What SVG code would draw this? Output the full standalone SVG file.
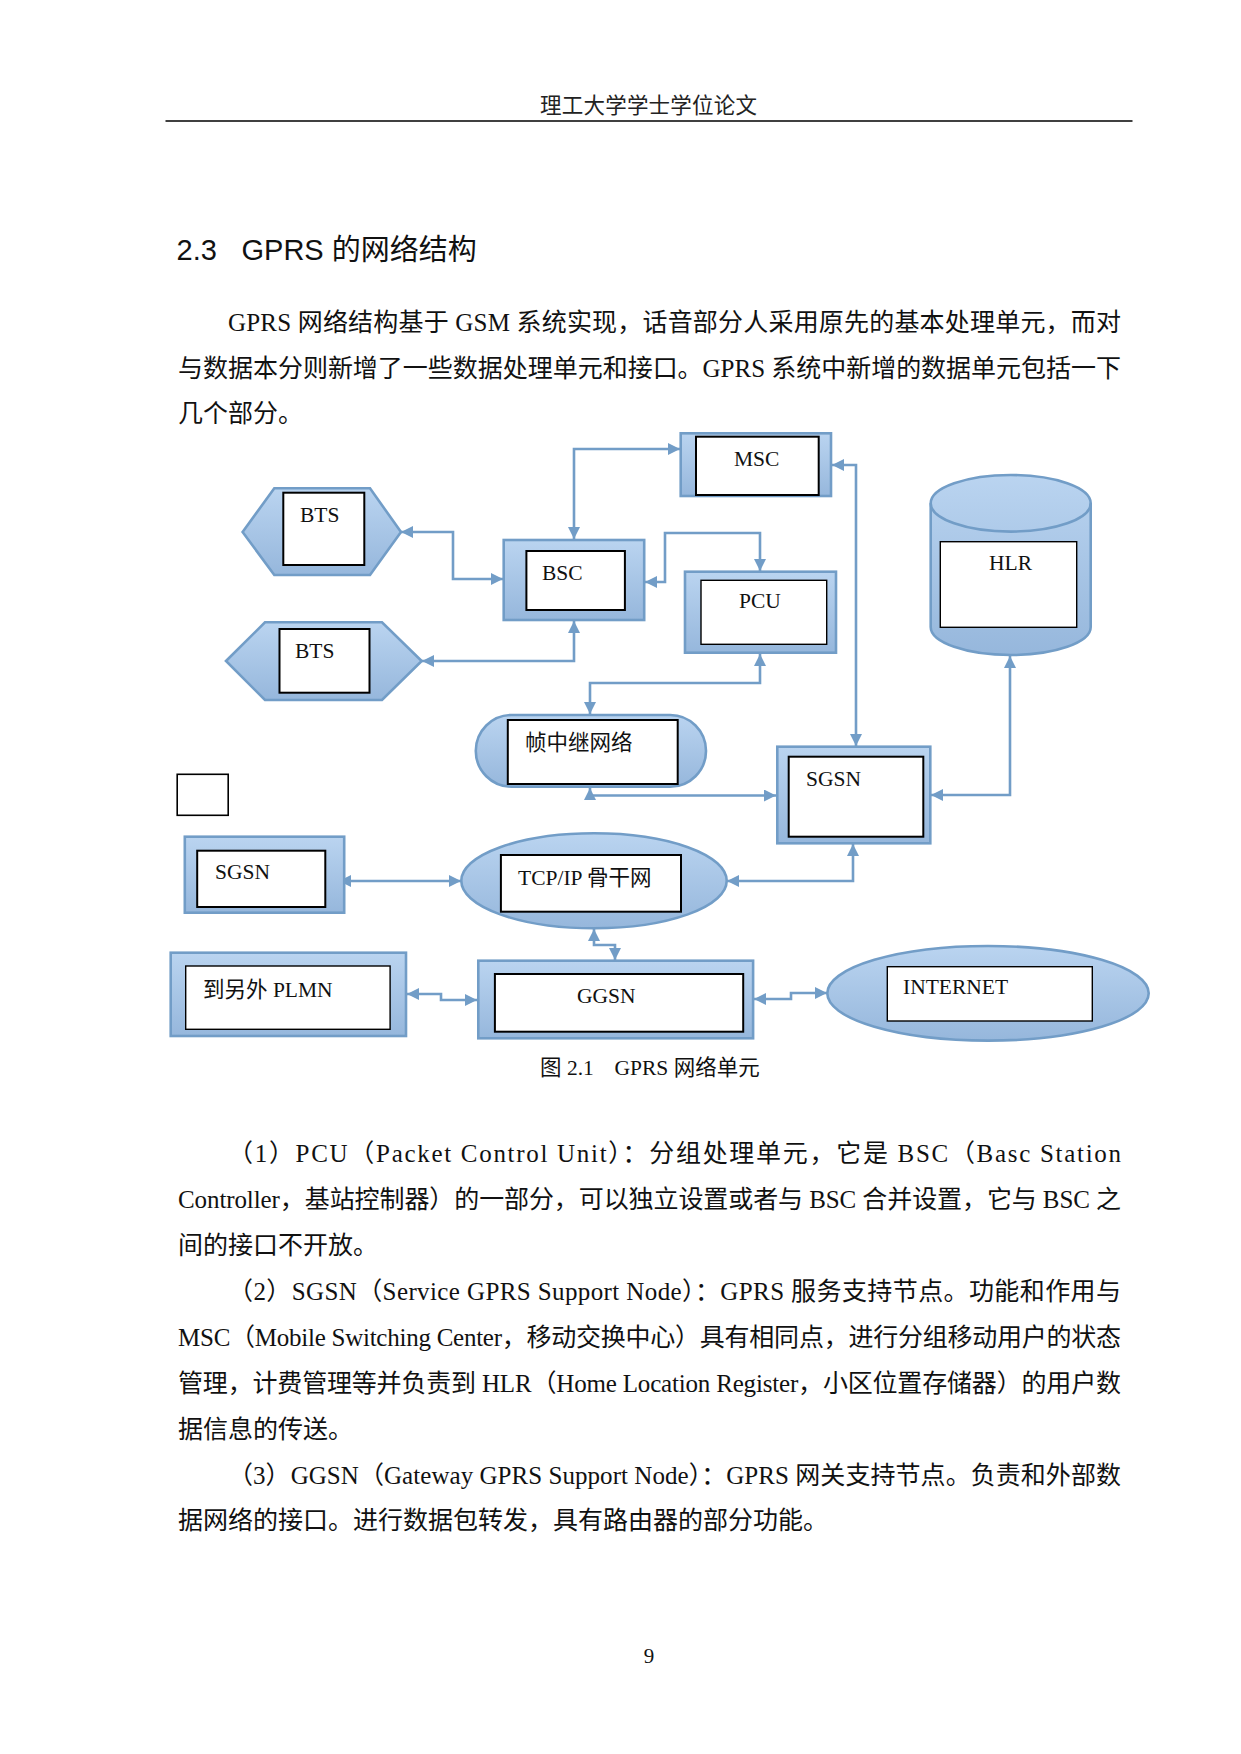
<svg xmlns="http://www.w3.org/2000/svg" width="1241" height="1754" viewBox="0 0 1241 1754">
<style>
.shape{fill:url(#g);stroke:#729dc7;stroke-width:2.6}
.inner{fill:#fff;stroke:#000;stroke-width:2}
.thin{fill:#fff;stroke:#000;stroke-width:1.4}
.lbl{font-family:"Liberation Serif","Noto Sans CJK SC",serif;font-size:21.5px;fill:#111}
.body{font-family:"Liberation Serif","Noto Sans CJK SC",serif;font-size:25px;fill:#111}
.conn{fill:none;stroke:#729dc7;stroke-width:2.6;marker-start:url(#ah);marker-end:url(#ah)}
</style>
<defs>
<linearGradient id="g" x1="0" y1="0" x2="0" y2="1">
<stop offset="0" stop-color="#bad4f0"/>
<stop offset="1" stop-color="#96b7dc"/>
</linearGradient>
<marker id="ah" viewBox="0 0 12 12" refX="12" refY="6" markerWidth="12" markerHeight="12" markerUnits="userSpaceOnUse" orient="auto-start-reverse">
<path d="M0,0 L12,6 L0,12 z" fill="#729dc7"/>
</marker>
</defs>
<rect width="1241" height="1754" fill="#fff"/>

<g id="page-header">
<text x="540" y="113" font-family="Noto Sans CJK SC, sans-serif" font-size="21.5" fill="#222" textLength="217">理工大学学士学位论文</text>
<line x1="165.5" y1="121" x2="1132.5" y2="121" stroke="#000" stroke-width="1.5"/>
</g>

<g id="heading" font-family="Liberation Sans, Noto Sans CJK SC, sans-serif" font-size="29" fill="#111">
<text x="176.5" y="260">2.3</text>
<text x="241.5" y="260">GPRS 的网络结构</text>
</g>

<g id="intro" class="body">
<text class="body" x="228" y="331" textLength="893">GPRS 网络结构基于 GSM 系统实现，话音部分人采用原先的基本处理单元，而对</text>
<text class="body" x="178" y="377" textLength="943">与数据本分则新增了一些数据处理单元和接口。GPRS 系统中新增的数据单元包括一下</text>
<text class="body" x="178" y="422">几个部分。</text>
</g>

<g id="connectors">
<path class="conn" d="M401,532 H453 V579 H503"/>
<path class="conn" d="M574,539 V449 H680"/>
<path class="conn" d="M574,621 V661 H422"/>
<path class="conn" d="M645,582 H665 V533 H760 V571"/>
<path class="conn" d="M832,465 H856 V746"/>
<path class="conn" d="M760,654 V683 H590 V714"/>
<path class="conn" d="M1010,656 V795 H931"/>
<path class="conn" d="M590,788 V795.5 H776"/>
<path class="conn" d="M339,881 H461"/>
<path class="conn" d="M727,881 H853 V844"/>
<path class="conn" d="M594,929 V945 H615 V960"/>
<path class="conn" d="M407,994 H441 V1000 H477"/>
<path class="conn" d="M754,999 H791 V993 H827"/>
</g>

<g id="bts1">
<polygon class="shape" points="242.6,532 274.3,488.3 370,488.3 401,532 370,575 274.3,575"/>
<rect class="inner" x="283.3" y="492.7" width="81" height="72.3"/>
<text class="lbl" x="300" y="522">BTS</text>
</g>

<g id="bts2">
<polygon class="shape" points="226,661 265,622.3 382,622.3 421.7,661 382,700 265,700"/>
<rect class="inner" x="279.5" y="629" width="90" height="63.7"/>
<text class="lbl" x="295" y="658">BTS</text>
</g>

<g id="bsc">
<rect class="shape" x="503.7" y="540" width="140.5" height="80"/>
<rect class="inner" x="526.4" y="551" width="98.5" height="59"/>
<text class="lbl" x="542" y="580">BSC</text>
</g>

<g id="msc">
<rect class="shape" x="680.7" y="433.3" width="150.3" height="62.7"/>
<rect class="inner" x="696" y="436.7" width="122.7" height="58.3"/>
<text class="lbl" x="734" y="466">MSC</text>
</g>

<g id="pcu">
<rect class="shape" x="685" y="571.7" width="151" height="81"/>
<rect class="thin" x="701" y="580.3" width="125.7" height="64"/>
<text class="lbl" x="739" y="608">PCU</text>
</g>

<g id="hlr">
<path class="shape" d="M930.7,503.3 A80,28.3 0 0 1 1090.7,503.3 V627 A80,28 0 0 1 930.7,627 Z"/>
<path d="M930.7,503.3 A80,28.3 0 0 0 1090.7,503.3" fill="none" stroke="#729dc7" stroke-width="2.6"/>
<rect class="thin" x="940.3" y="541.7" width="136.4" height="85.6"/>
<text class="lbl" x="989" y="570">HLR</text>
</g>

<g id="frame-relay">
<rect class="shape" x="475.8" y="715" width="230.2" height="71.7" rx="35.8" ry="35.8"/>
<rect class="inner" x="507.8" y="720" width="169.9" height="64"/>
<text class="lbl" x="525" y="750">帧中继网络</text>
</g>

<g id="sgsn-right">
<rect class="shape" x="777.3" y="746.7" width="153" height="96.6"/>
<rect class="inner" x="788.7" y="756.7" width="134.6" height="80"/>
<text class="lbl" x="806" y="786">SGSN</text>
</g>

<g id="empty-box">
<rect x="177.2" y="774.3" width="51" height="41" fill="#fff" stroke="#000" stroke-width="1.6"/>
</g>

<g id="sgsn-left">
<rect class="shape" x="184.8" y="836.7" width="159.4" height="76"/>
<rect class="inner" x="197.2" y="850.7" width="128.1" height="56.3"/>
<text class="lbl" x="215" y="879">SGSN</text>
</g>

<g id="tcpip">
<ellipse class="shape" cx="594" cy="880.8" rx="132.7" ry="47.5"/>
<rect class="inner" x="500.9" y="855" width="180.1" height="56.7"/>
<text class="lbl" x="518" y="885">TCP/IP 骨干网</text>
</g>

<g id="plmn">
<rect class="shape" x="170.7" y="952.7" width="235.3" height="83.3"/>
<rect class="thin" x="185.7" y="966" width="204.4" height="63.3"/>
<text class="lbl" x="203" y="997">到另外 PLMN</text>
</g>

<g id="ggsn">
<rect class="shape" x="478.3" y="960.7" width="274.8" height="77.6"/>
<rect class="inner" x="494.9" y="974" width="248.3" height="57.7"/>
<text class="lbl" x="577" y="1003">GGSN</text>
</g>

<g id="internet">
<ellipse class="shape" cx="988" cy="993.3" rx="160.7" ry="47.3"/>
<rect class="thin" x="887.3" y="966.7" width="205" height="54.3"/>
<text class="lbl" x="903" y="994">INTERNET</text>
</g>

<g id="caption">
<text class="lbl" x="540" y="1075">图 2.1<tspan x="614.5">GPRS 网络单元</tspan></text>
</g>

<g id="paragraphs">
<text class="body" x="228" y="1162" textLength="893">（1）PCU（Packet Control Unit）：分组处理单元，它是 BSC（Basc Station</text>
<text class="body" x="178" y="1208" textLength="943">Controller，基站控制器）的一部分，可以独立设置或者与 BSC 合并设置，它与 BSC 之</text>
<text class="body" x="178" y="1254">间的接口不开放。</text>
<text class="body" x="228" y="1300" textLength="893">（2）SGSN（Service GPRS Support Node）：GPRS 服务支持节点。功能和作用与</text>
<text class="body" x="178" y="1346" textLength="943">MSC（Mobile Switching Center，移动交换中心）具有相同点，进行分组移动用户的状态</text>
<text class="body" x="178" y="1392" textLength="943">管理，计费管理等并负责到 HLR（Home Location Register，小区位置存储器）的用户数</text>
<text class="body" x="178" y="1438">据信息的传送。</text>
<text class="body" x="228" y="1484" textLength="893">（3）GGSN（Gateway GPRS Support Node）：GPRS 网关支持节点。负责和外部数</text>
<text class="body" x="178" y="1529">据网络的接口。进行数据包转发，具有路由器的部分功能。</text>
</g>

<g id="page-number">
<text x="649" y="1663" font-family="Liberation Serif, serif" font-size="21" fill="#111" text-anchor="middle">9</text>
</g>
</svg>
